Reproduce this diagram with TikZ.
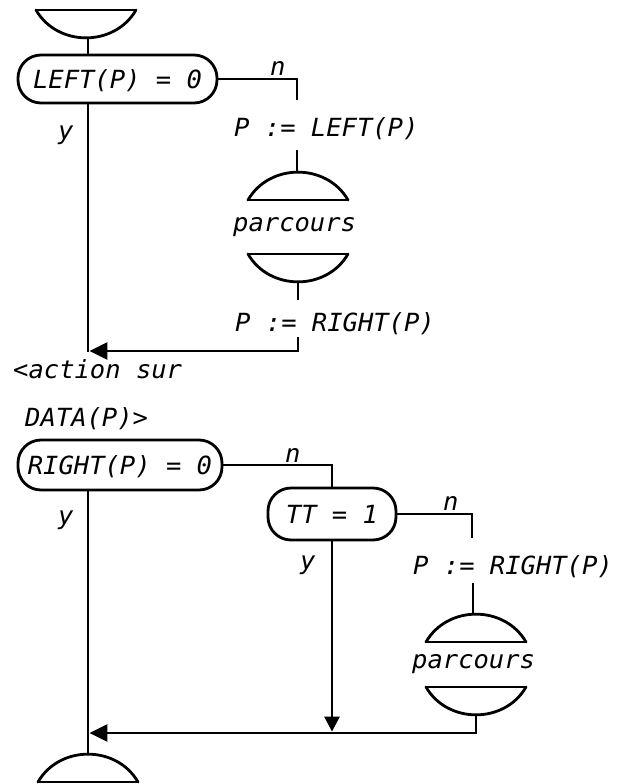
\documentclass[tikz,border=0pt]{standalone}
\usepackage{fontspec}
\newfontfamily\plotterfont[FakeStretch=1.02]{DejaVu Sans Mono}
\usetikzlibrary{arrows.meta}
\usetikzlibrary{positioning}
\tikzset {
  flow/.style = {
    draw = black,
    line width = 2.8pt
  },
  % flow path ending on a filled head
  flowto/.style = {
    flow,
    -{Triangle[length=18pt,width=17pt]}
  },
  outline/.style = {
    draw = black,
    line width = 2.8pt,
    line cap = round
  }
}
\tikzset {
  plotter/.style = {
    font = \plotterfont\itshape\fontsize{25}{25}\selectfont
  },
  % free text, placed on its baseline
  label text/.style = {
    plotter,
    inner sep = 0pt,
    anchor = base west
  },
  % condition test
  test/.style = {
    plotter,
    draw = black,
    line width = 2.8pt,
    rectangle,
    rounded corners = 23pt,
    text height = 18.2pt,
    text depth = 0pt,
    inner xsep = 2pt,
    inner ysep = 0pt
  },
  % entry of a call: flat base, round top
  dome/.style = {
    minimum width = 100pt,
    minimum height = 28pt,
    inner sep = 0pt,
    outer sep = 0pt,
    append after command = {
      (\tikzlastnode.south west) edge[outline] (\tikzlastnode.south east)
      (\tikzlastnode.south west) edge[outline, out=60, in=120, looseness=1.1]
        (\tikzlastnode.south east)
    }
  },
  % exit of a call: flat top, round bottom
  bowl/.style = {
    minimum width = 100pt,
    minimum height = 28pt,
    inner sep = 0pt,
    outer sep = 0pt,
    append after command = {
      (\tikzlastnode.north west) edge[outline] (\tikzlastnode.north east)
      (\tikzlastnode.north west) edge[outline, out=-60, in=-120, looseness=1.1]
        (\tikzlastnode.north east)
    }
  }
}

\begin{document}
\begin{tikzpicture}[x=1pt, y=1pt]
  \useasboundingbox (0,0) rectangle (616,-784);
  \coordinate (spine) at (88,0);

  % left subtree
  \node[bowl] (begin) at (86,-24) {};
  \node[test, minimum width=199pt, minimum height=48pt] (lefttest) at (117.5,-79) {LEFT(P) = 0};
  \node[label text] (leftno) at (270,-75) {n};
  \node[label text] (leftyes) at (58,-139) {y};
  \coordinate (leftturn) at (297,-100);
  \node[label text] (goleft) at (234,-136) {P := LEFT(P)};
  \coordinate (goleft-out) at (297,-150);
  \node[dome] (callleft) at (298,-186) {};
  \node[label text] (callleft-name) at (233,-231) {parcours};
  \node[bowl] (backleft) at (298,-268) {};
  \coordinate (backleft-out) at (298,-300);
  \node[label text] (goright) at (235,-331) {P := RIGHT(P)};
  \coordinate (goright-out) at (298,-337);
  \coordinate (join1) at (89.4,-351);
  \coordinate (spine-stop) at (88,-352.4);

  % visit the node
  \node[label text] (action) at (13,-378) {<action sur};
  \node[label text] (actiondata) at (25,-426) {DATA(P)>};

  % right subtree
  \node[test, minimum width=204pt, minimum height=50pt] (righttest) at (120,-465) {RIGHT(P) = 0};
  \node[label text] (rightno) at (285,-462) {n};
  \node[label text] (rightyes) at (58,-524) {y};
  \node[test, minimum width=128pt, minimum height=52pt] (tttest) at (332,-514) {TT = 1};
  \node[label text] (ttno) at (443,-510) {n};
  \node[label text] (ttyes) at (300,-569) {y};
  \coordinate (ttturn) at (472,-538);
  \node[label text] (goright2) at (413,-574) {P := RIGHT(P)};
  \coordinate (goright2-out) at (473,-583);
  \node[dome] (callright) at (476,-628) {};
  \node[label text] (callright-name) at (412,-668) {parcours};
  \node[bowl] (backright) at (476,-701) {};
  \coordinate (join2) at (89.4,-733);
  \coordinate (ttmerge) at (332,-731.6);
  \node[dome] (end) at (88,-768) {};

  \draw[flow] (begin.south -| spine) -- (lefttest.north -| spine);
  \draw[flow] (lefttest.south -| spine) -- (spine-stop);
  \draw[flow] (lefttest.east) -| (leftturn);
  \draw[flow] (goleft-out) -- (goleft-out |- callleft.north);
  \draw[flow] (backleft.south) -- (backleft-out);
  \draw[flowto] (goright-out) |- (join1);

  \draw[flow] (righttest.east) -| (tttest.north);
  \draw[flow] (righttest.south -| spine) -- (end.north);
  \draw[flow] (tttest.east) -| (ttturn);
  \draw[flow] (goright2-out) -- (goright2-out |- callright.north);
  \draw[flowto] (backright.south) |- (join2);
  \draw[flowto, -{Triangle[length=15pt,width=15pt]}] (tttest.south) -- (ttmerge);
\end{tikzpicture}
\end{document}
